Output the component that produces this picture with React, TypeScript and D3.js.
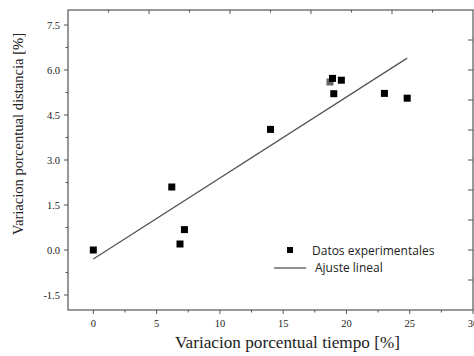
import React from "react";
import * as d3 from "d3";

const timeVar = [0, 6.2, 6.85, 7.2, 14.0, 18.9, 19.0, 19.6, 23.0, 24.8];
const distVar = [0.0, 2.1, 0.2, 0.68, 4.02, 5.72, 5.21, 5.66, 5.22, 5.06];
const grayTime = [18.7];
const grayDist = [5.6];
const fitX = [0, 24.8];
const fitIntercept = -0.3;
const fitSlope = 0.27;
const xTicks = [0, 5, 10, 15, 20, 25, 30];
const yTicks = [-1.5, 0.0, 1.5, 3.0, 4.5, 6.0, 7.5];

export default function App() {
  const W = 474, H = 356;
  const L = 68, R = 473, T = 10, B = 310;
  const x = d3.scaleLinear().domain([-2, 30]).range([L, R]);
  const y = d3.scaleLinear().domain([-2, 8]).range([B, T]);
  const xMinor = d3.range(0, 30.01, 2.5).filter((v) => !xTicks.includes(v));
  const yMinor = d3.range(-1.5, 7.51, 0.75).filter((v) => !yTicks.some((t) => Math.abs(t - v) < 1e-6));
  const topTicks = d3.range(1, 10).map((i) => L + ((R - L) * i) / 10);
  const rightTicks = d3.range(-1, 8, 1);
  const line = d3.line<number>().x((d) => x(d)).y((d) => y(fitIntercept + fitSlope * d));
  const s = 7;
  const axisColor = "#555";
  const serif = "'Liberation Serif', 'DejaVu Serif', serif";
  const sans = "'Open Sans', 'Noto Sans', sans-serif";
  return (
    <svg width={W} height={H} style={{ position: "absolute", left: 0, top: 0, background: "#fff" }}>
      <rect x={0} y={0} width={W} height={H} fill="#fff" />
      <rect x={L} y={T} width={R - L} height={B - T} fill="none" stroke={axisColor} strokeWidth={1.2} />
      {xTicks.map((v) => (
        <g key={"xt" + v}>
          <line x1={x(v)} x2={x(v)} y1={B} y2={B + 4} stroke={axisColor} />
          <text x={x(v)} y={B + 17} textAnchor="middle" fontFamily={serif} fontSize={10.5} fill="#222">{v}</text>
        </g>
      ))}
      {xMinor.map((v) => (
        <line key={"xm" + v} x1={x(v)} x2={x(v)} y1={B} y2={B + 2.5} stroke={axisColor} />
      ))}
      {yTicks.map((v) => (
        <g key={"yt" + v}>
          <line x1={L - 4} x2={L} y1={y(v)} y2={y(v)} stroke={axisColor} />
          <text x={L - 8} y={y(v) + 3.5} textAnchor="end" fontFamily={serif} fontSize={10.5} fill="#222">{v.toFixed(1)}</text>
        </g>
      ))}
      {yMinor.map((v) => (
        <line key={"ym" + v} x1={L - 2.5} x2={L} y1={y(v)} y2={y(v)} stroke={axisColor} />
      ))}
      {topTicks.map((px, i) => (
        <line key={"tt" + i} x1={px} x2={px} y1={T} y2={T + (i % 2 === 0 ? 2.5 : 4)} stroke={axisColor} />
      ))}
      {rightTicks.map((v) => (
        <line key={"rt" + v} x1={R - 5} x2={R} y1={y(v)} y2={y(v)} stroke={axisColor} />
      ))}
      <path d={line(fitX) || ""} fill="none" stroke="#555" strokeWidth={1.3} />
      {grayTime.map((t, i) => (
        <rect key={"g" + i} x={x(t) - s / 2} y={y(grayDist[i]) - s / 2} width={s} height={s} fill="#666" />
      ))}
      {timeVar.map((t, i) => (
        <rect key={"p" + i} x={x(t) - s / 2} y={y(distVar[i]) - s / 2} width={s} height={s} fill="#000" />
      ))}
      <rect x={290 - 3} y={250 - 3} width={6} height={6} fill="#000" />
      <text x={312} y={254.5} fontFamily={sans} fontSize={12} fill="#222">Datos experimentales</text>
      <line x1={274} x2={306} y1={268} y2={268} stroke="#555" strokeWidth={1.3} />
      <text x={315} y={272} fontFamily={sans} fontSize={12} fill="#222">Ajuste lineal</text>
      <text x={175} y={348} textLength={225} lengthAdjust="spacingAndGlyphs" fontFamily={serif} fontSize={17} fill="#222">Variacion porcentual tiempo [%]</text>
      <text transform={`translate(23,235) rotate(-90)`} textLength={202} lengthAdjust="spacingAndGlyphs" fontFamily={serif} fontSize={15} fill="#222">Variacion porcentual distancia [%]</text>
    </svg>
  );
}
